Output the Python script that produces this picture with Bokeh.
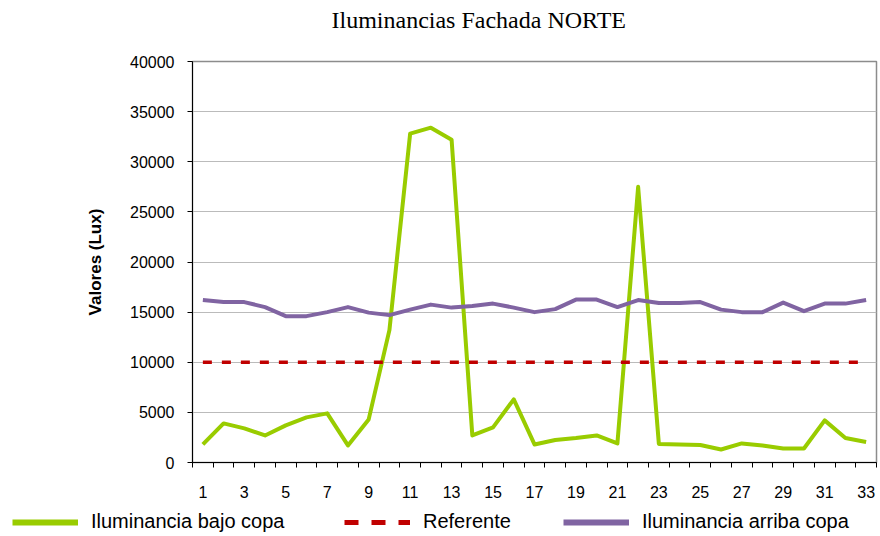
from bokeh.plotting import figure
from bokeh.models import ColumnDataSource, FixedTicker, Legend, LegendItem, Label
from bokeh.embed import file_html
from bokeh.resources import INLINE

# ---- data ----
puntos = list(range(1, 34))
bajo_copa = [1800, 3900, 3400, 2700, 3700, 4500, 4900, 1700, 4300, 13200,
             32800, 33400, 32200, 2700, 3500, 6300, 1800, 2250, 2450, 2700,
             1900, 27500, 1850, 1800, 1750, 1300, 1900, 1700, 1400, 1400,
             4200, 2450, 2050]
referente = [10000, 10000, 10000, 10000, 10000, 10000, 10000, 10000, 10000, 10000,
             10000, 10000, 10000, 10000, 10000, 10000, 10000, 10000, 10000, 10000,
             10000, 10000, 10000, 10000, 10000, 10000, 10000, 10000, 10000, 10000,
             10000, 10000, 10000]
arriba_copa = [16200, 16000, 16000, 15500, 14600, 14600, 15000, 15500, 14950, 14700,
               15250, 15750, 15450, 15600, 15850, 15450, 15000, 15300, 16250, 16250,
               15500, 16200, 15900, 15900, 16000, 15250, 15000, 15000, 15950, 15100,
               15850, 15850, 16200]
x_tick_labels = [1, 3, 5, 7, 9, 11, 13, 15, 17, 19, 21, 23, 25, 27, 29, 31, 33]
y_ticks = [0, 5000, 10000, 15000, 20000, 25000, 30000, 35000, 40000]

titulo = "Iluminancias Fachada NORTE"
eje_y = "Valores (Lux)"
nombres = ["Iluminancia bajo copa", "Referente", "Iluminancia arriba copa"]
colores = ["#99CC00", "#C00000", "#8064A2"]

W = 880

# ---- title strip ----
head = figure(width=W, height=40, output_backend="svg", toolbar_location=None,
              x_axis_type=None, y_axis_type=None, x_range=(0, 1), y_range=(0, 1),
              min_border=0, outline_line_color=None)
head.grid.visible = False
head.add_layout(Label(x=331, y=21, x_units="screen", y_units="screen", text=titulo,
                      text_font="Liberation Serif", text_font_size="24px",
                      text_color="#000000", text_baseline="alphabetic", text_align="left"))

# ---- main chart ----
src = ColumnDataSource(data=dict(x=puntos, bajo=bajo_copa, ref=referente, arriba=arriba_copa))

p = figure(width=W, height=465, output_backend="svg", toolbar_location=None,
           x_range=(0.5, len(puntos) + 0.5), y_range=(0, 40000),
           min_border_left=192, min_border_right=4, min_border_top=21, min_border_bottom=43)

p.outline_line_color = "#8C8C8C"
p.outline_line_width = 1.5

xa = p.xaxis[0]
xa.ticker = FixedTicker(ticks=x_tick_labels,
                        minor_ticks=[i + 0.5 for i in range(0, len(puntos) + 1)])
xa.major_tick_out = 0
xa.major_tick_in = 0
xa.minor_tick_out = 5
xa.minor_tick_in = 0
xa.minor_tick_line_color = "#000000"
xa.axis_line_color = "#000000"
xa.major_label_standoff = 18
xa.major_label_text_font = "Liberation Sans"
xa.major_label_text_font_size = "16px"
xa.major_label_text_color = "#000000"

ya = p.yaxis[0]
ya.ticker = FixedTicker(ticks=y_ticks)
ya.major_tick_out = 5
ya.major_tick_in = 0
ya.minor_tick_out = 0
ya.minor_tick_in = 0
ya.major_tick_line_color = "#000000"
ya.axis_line_color = "#000000"
ya.major_label_standoff = 13
ya.major_label_text_font = "Liberation Sans"
ya.major_label_text_font_size = "16px"
ya.major_label_text_color = "#000000"
ya.axis_label = eje_y
ya.axis_label_text_font = "Liberation Sans"
ya.axis_label_text_font_size = "17px"
ya.axis_label_text_font_style = "bold"
ya.axis_label_text_color = "#000000"
ya.axis_label_standoff = 22

p.xgrid.grid_line_color = None
p.ygrid.grid_line_color = "#BBBBBB"
p.ygrid.grid_line_width = 1

p.line("x", "bajo", source=src, line_color=colores[0], line_width=4, line_join="round")
p.line("x", "ref", source=src, line_color=colores[1], line_width=3.5, line_dash="9 10")
p.line("x", "arriba", source=src, line_color=colores[2], line_width=4, line_join="round")

# ---- legend strip ----
foot = figure(width=W, height=31, output_backend="svg", toolbar_location=None,
              x_axis_type=None, y_axis_type=None, x_range=(0, 1), y_range=(0, 1),
              min_border=0, outline_line_color=None)
foot.grid.visible = False
nada = ColumnDataSource(data=dict(x=[float("nan")], y=[float("nan")]))
k1 = foot.line("x", "y", source=nada, line_color=colores[0], line_width=6)
k2 = foot.line("x", "y", source=nada, line_color=colores[1], line_width=5, line_dash="14 13")
k3 = foot.line("x", "y", source=nada, line_color=colores[2], line_width=6)

for r, name, loc in [(k1, nombres[0], (12, 3)),
                     (k2, nombres[1], (344, 3)),
                     (k3, nombres[2], (563, 3))]:
    lg = Legend(items=[LegendItem(label=name, renderers=[r])], location=loc,
                orientation="horizontal", padding=0, margin=0, spacing=0,
                border_line_color=None, background_fill_alpha=0,
                glyph_width=66, glyph_height=20, label_standoff=13, label_height=20,
                label_text_font="Liberation Sans", label_text_font_size="20px",
                label_text_color="#000000")
    foot.add_layout(lg, "center")

open("out.html", "w").write(file_html([head, p, foot], INLINE))
